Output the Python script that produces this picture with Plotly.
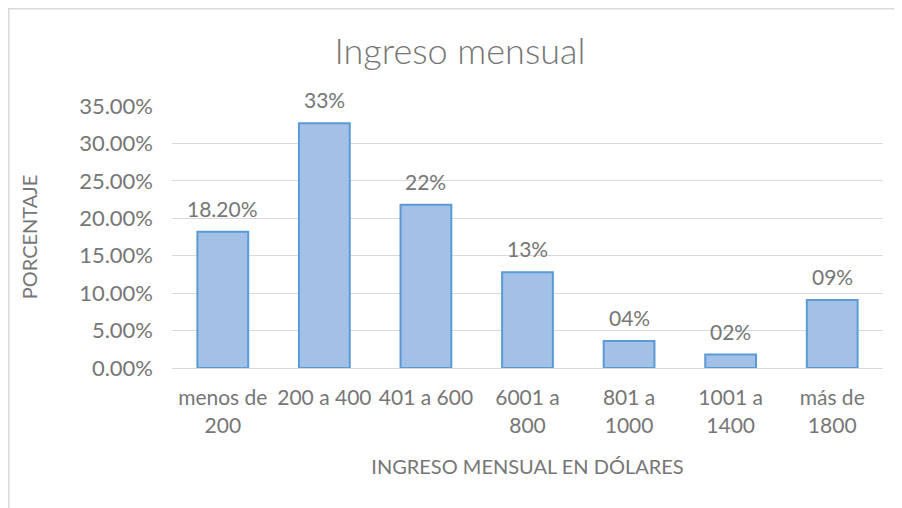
import plotly.graph_objects as go

categorias = ["menos de<br>200", "200 a 400", "401 a 600", "6001 a<br>800",
              "801 a<br>1000", "1001 a<br>1400", "más de<br>1800"]
porcentajes = [0.182, 0.327, 0.218, 0.128, 0.036, 0.018, 0.091]
etiquetas = ["18.20%", "33%", "22%", "13%", "04%", "02%", "09%"]

FONT = "Lato, 'Open Sans', sans-serif"
GRIS = "#767676"

# la página tiene 8px de margen en el body: se compensa en los márgenes
fig = go.Figure(
    go.Bar(
        x=categorias,
        y=porcentajes,
        marker=dict(color="#a3c1e6", line=dict(color="#5b9bd5", width=2)),
        hoverinfo="x+y",
    )
)

for cat, val, txt in zip(categorias, porcentajes, etiquetas):
    fig.add_annotation(
        x=cat, y=val, text=txt,
        showarrow=False, yanchor="bottom", yshift=9,
        font=dict(size=21, color=GRIS, family=FONT),
    )

fig.update_layout(
    width=902,
    height=508,
    margin=dict(l=164, r=27, t=98, b=148),
    plot_bgcolor="white",
    paper_bgcolor="white",
    bargap=0.5,
    showlegend=False,
    font=dict(family=FONT, color=GRIS),
    title=dict(
        text="Ingreso mensual",
        x=0.501,
        xref="container",
        xanchor="center",
        y=0.915,
        yref="container",
        yanchor="middle",
        font=dict(size=36, color=GRIS, family=FONT, weight=300),
    ),
)

fig.update_yaxes(
    range=[0, 0.35],
    dtick=0.05,
    tickformat=".2%",
    gridcolor="#d9d9d9",
    gridwidth=1,
    zeroline=False,
    showline=False,
    tickfont=dict(size=22, color=GRIS),
    ticks="",
    ticklabelstandoff=18,
    title=dict(text="PORCENTAJE", font=dict(size=20, color=GRIS), standoff=36),
)

fig.update_xaxes(
    showgrid=False,
    showline=True,
    linecolor="#d9d9d9",
    linewidth=1,
    tickfont=dict(size=21, color=GRIS),
    ticks="",
    ticklabelstandoff=11,
    title=dict(text="INGRESO MENSUAL EN DÓLARES", font=dict(size=20, color=GRIS), standoff=24),
)

# marco del gráfico
fig.add_shape(
    type="rect",
    xref="paper", yref="paper",
    x0=(0.75 - 164) / 711, x1=1.2,
    y0=-0.7, y1=1 + (98 - 0.75) / 262,
    line=dict(color="#d9d9d9", width=1.5),
    fillcolor="rgba(0,0,0,0)",
    layer="below",
)

fig.write_html("out.html")
